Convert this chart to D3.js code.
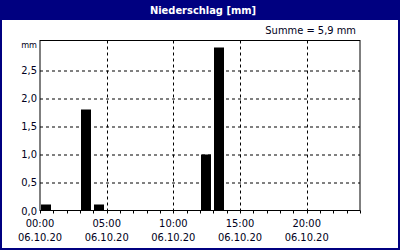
<!DOCTYPE html>
<html>
<head>
<meta charset="utf-8">
<script src="https://cdn.jsdelivr.net/npm/d3@7"></script>
<style>
  body { margin: 0; padding: 0; background: #fff; }
  svg { display: block; }
  text { font-family: "DejaVu Sans Condensed", "DejaVu Sans", sans-serif; font-size: 11px; fill: #000020; }
</style>
</head>
<body>
<div id="chart"></div>
<script>
// hourly precipitation, 06.10.20
var hours = d3.range(24);
var values = [0.1, 0, 0, 1.8, 0.1, 0, 0, 0, 0, 0, 0, 0, 1.0, 2.9, 0, 0, 0, 0, 0, 0, 0, 0, 0, 0];
var yTicks = [0, 0.5, 1.0, 1.5, 2.0, 2.5];
var xTicks = [0, 5, 10, 15, 20];
var xTickLabels = ["00:00", "05:00", "10:00", "15:00", "20:00"];
var dateLabel = "06.10.20";
var title = "Niederschlag [mm]";
var unit = "mm";

var svgWidth = 400;
var svgHeight = 250;
var margin = { top: 40.5, right: 40, bottom: 39.5, left: 40 };
var width = svgWidth - margin.left - margin.right;
var height = svgHeight - margin.top - margin.bottom;

var fmt = function(v) { return d3.format(".1f")(v).replace(".", ","); };

var svg = d3.select("#chart").append("svg")
  .attr("width", svgWidth)
  .attr("height", svgHeight);

// frame and title bar
svg.append("rect")
  .attr("x", 1).attr("y", 1)
  .attr("width", svgWidth - 2).attr("height", svgHeight - 2)
  .attr("fill", "#fff")
  .attr("stroke", "#000080")
  .attr("stroke-width", 2);

svg.append("rect")
  .attr("x", 0).attr("y", 0)
  .attr("width", svgWidth).attr("height", 20)
  .attr("fill", "#000080");

svg.append("text")
  .attr("x", svgWidth / 2 + 3)
  .attr("y", 14)
  .attr("text-anchor", "middle")
  .style("fill", "#fff")
  .style("font-weight", "bold")
  .text(title);

var sum = d3.sum(values);
svg.append("text")
  .attr("x", 356)
  .attr("y", 34)
  .attr("text-anchor", "end")
  .text("Summe = " + fmt(sum) + " mm");

var chartGroup = svg.append("g")
  .attr("transform", `translate(${margin.left}, ${margin.top})`);

var xScale = d3.scaleLinear()
  .domain([0, 24])
  .range([0, width]);

var yScale = d3.scaleLinear()
  .domain([0, 3.03])
  .range([height, 0]);

// grid
chartGroup.selectAll(".hgrid")
  .data(yTicks.filter(d => d > 0))
  .enter()
  .append("line")
  .attr("x1", 0).attr("x2", width)
  .attr("y1", d => Math.round(yScale(d)) + 0.5)
  .attr("y2", d => Math.round(yScale(d)) + 0.5)
  .attr("stroke", "#000")
  .attr("stroke-dasharray", "3,3");

chartGroup.selectAll(".vgrid")
  .data(xTicks.filter(d => d > 0))
  .enter()
  .append("line")
  .attr("x1", d => Math.round(xScale(d)) + 0.5)
  .attr("x2", d => Math.round(xScale(d)) + 0.5)
  .attr("y1", 0).attr("y2", height)
  .attr("stroke", "#000")
  .attr("stroke-dasharray", "3,3");

// bars
chartGroup.selectAll(".bar")
  .data(hours.filter(h => values[h] > 0))
  .enter()
  .append("rect")
  .attr("x", h => Math.round(xScale(h + 0.07)))
  .attr("width", 10)
  .attr("y", h => Math.round(yScale(values[h])))
  .attr("height", h => height - Math.round(yScale(values[h])))
  .attr("fill", "#000");

// plot frame
chartGroup.append("rect")
  .attr("x", 0).attr("y", 0)
  .attr("width", width).attr("height", height)
  .attr("fill", "none")
  .attr("stroke", "#000");

// hourly ticks
chartGroup.selectAll(".tick-h")
  .data(d3.range(25))
  .enter()
  .append("line")
  .attr("x1", d => Math.round(xScale(d)) + 0.5)
  .attr("x2", d => Math.round(xScale(d)) + 0.5)
  .attr("y1", height).attr("y2", height + 3)
  .attr("stroke", "#000");

// y labels
chartGroup.selectAll(".ylab")
  .data(yTicks)
  .enter()
  .append("text")
  .attr("x", -3)
  .attr("y", d => yScale(d) + 4)
  .attr("text-anchor", "end")
  .text(d => fmt(d));

chartGroup.append("text")
  .attr("x", -3)
  .attr("y", 7)
  .attr("text-anchor", "end")
  .style("font-size", "9px")
  .text(unit);

// x labels
var xLab = chartGroup.selectAll(".xlab")
  .data(xTicks)
  .enter()
  .append("g")
  .attr("transform", d => `translate(${xScale(d)}, ${height})`);

xLab.append("text")
  .attr("y", 16)
  .attr("text-anchor", "middle")
  .text((d, i) => xTickLabels[i]);

xLab.append("text")
  .attr("y", 30)
  .attr("text-anchor", "middle")
  .text(dateLabel);
</script>
</body>
</html>
